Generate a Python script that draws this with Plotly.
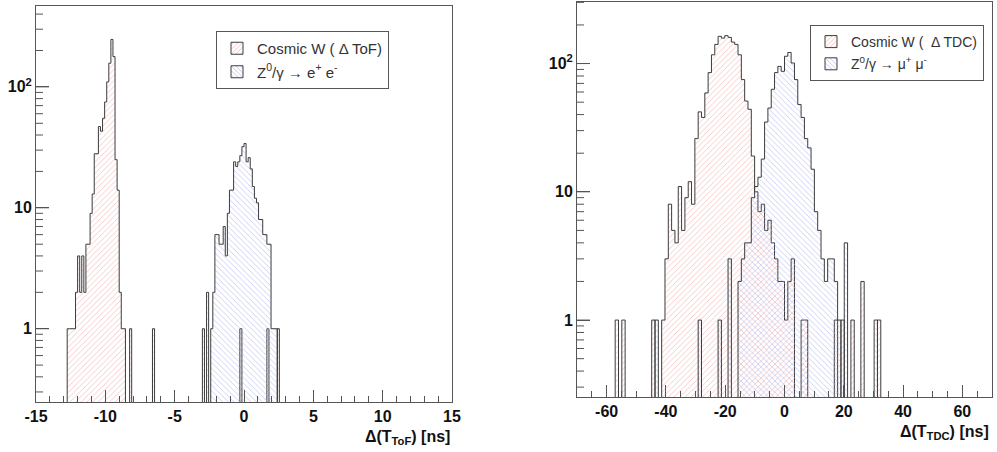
import numpy as np
import plotly.graph_objects as go

# ---------------- data: left panel, Delta(T_ToF) [ns] ----------------
tof_bin_lo = -15.0
tof_bin_w = 0.15
tof_cosmic_x = [-12.675, -12.525, -12.375, -12.225, -12.075, -11.925, -11.775, -11.625,
                -11.475, -11.325, -11.175, -11.025, -10.875, -10.725, -10.575, -10.425,
                -10.275, -10.125, -9.975, -9.825, -9.675, -9.525, -9.375, -9.225,
                -9.075, -8.925, -8.775, -8.625, -8.175, -6.525, -2.925, -0.225, 1.725, 2.475]
tof_cosmic_n = [1, 1, 1, 1, 2, 4, 2, 4,
                2, 5, 5, 9, 13, 28, 28, 47,
                43, 55, 75, 110, 157, 247, 178, 25,
                14, 2, 1, 1, 1, 1, 1, 1, 1, 1]
tof_z_x = [-2.625, -2.325, -2.175, -2.025, -1.875, -1.725, -1.575, -1.425, -1.275, -1.125,
           -0.975, -0.825, -0.675, -0.525, -0.375, -0.225, -0.075, 0.075, 0.225, 0.375,
           0.525, 0.675, 0.825, 0.975, 1.125, 1.275, 1.425, 1.575, 1.725, 1.875,
           2.025, 2.175, 2.325]
tof_z_n = [2, 1, 2, 6, 6, 5, 5, 7, 4, 9,
           14, 14, 24, 22, 24, 27, 32, 34, 24, 26,
           21, 15, 12, 11, 8, 8, 6, 6, 5, 5,
           1, 1, 1]

# ---------------- data: right panel, Delta(T_TDC) [ns] ----------------
tdc_bin_lo = -70.56
tdc_bin_w = 1.12
tdc_cosmic_x = [-57.12, -54.88, -44.24,
                -40.88, -39.76, -38.64, -37.52, -36.40, -35.28, -34.16, -33.04, -31.92,
                -30.80, -29.68, -28.56, -27.44, -26.32, -25.20, -24.08, -22.96, -21.84,
                -20.72, -19.60, -18.48, -17.36, -16.24, -15.12, -14.00, -12.88, -11.76,
                -10.64, -9.52, -8.40, -7.28, -6.16, -5.04, -3.92, -2.80, -1.68, -0.56,
                0.56, 1.68, 2.80, 6.16, 7.28, 17.36, 19.60, 22.96, 26.32, 31.92]
tdc_cosmic_n = [1, 1, 1,
                1, 3, 8, 5, 4, 11, 5, 9, 12,
                8, 26, 42, 38, 59, 85, 117, 141, 163,
                158, 165, 160, 147, 141, 117, 75, 51, 44,
                19, 10, 7, 8, 5, 6, 4, 3, 2, 2,
                1, 2, 3, 1, 1, 1, 1, 1, 2, 1]
tdc_z_x = [-43.12, -28.56, -21.84, -18.48,
           -15.12, -14.00, -12.88, -11.76, -10.64, -9.52, -8.40, -7.28, -6.16, -5.04,
           -3.92, -2.80, -1.68, -0.56, 0.56, 1.68, 2.80, 3.92, 5.04, 6.16,
           7.28, 8.40, 9.52, 10.64, 11.76, 12.88, 14.00, 15.12, 16.24, 17.36,
           18.48, 20.72, 30.80]
tdc_z_n = [1, 1, 1, 3,
           2, 3, 4, 4, 9, 11, 13, 18, 35, 45,
           63, 85, 95, 87, 114, 122, 101, 75, 48, 38,
           26, 22, 15, 7, 5, 3, 2, 3, 3, 2,
           1, 4, 1]

tof_ticks = [-15, -10, -5, 0, 5, 10, 15]
tdc_ticks = [-60, -40, -20, 0, 20, 40, 60]
y_tickvals = [1, 10, 100]
y_ticktext = ["1", "10", "10<sup>2</sup>"]
y_minor_left = [0.3, 0.4, 0.5, 0.6, 0.7, 0.8, 0.9, 2, 3, 4, 5, 6, 7, 8, 9,
                20, 30, 40, 50, 60, 70, 80, 90, 200, 300, 400]
y_minor_right = [0.3, 0.4, 0.5, 0.6, 0.7, 0.8, 0.9, 2, 3, 4, 5, 6, 7, 8, 9,
                 20, 30, 40, 50, 60, 70, 80, 90, 200, 300]

legend_tof = ["Cosmic W ( \u0394 ToF)", "Z<sup>0</sup>/\u03b3 \u2192 e<sup>+</sup> e<sup>-</sup>"]
legend_tdc = ["Cosmic W (  \u0394 TDC)", "Z<sup>0</sup>/\u03b3 \u2192 \u03bc<sup>+</sup> \u03bc<sup>-</sup>"]
x_title_tof = "\u0394(T<sub>ToF</sub>) [ns]"
x_title_tdc = "\u0394(T<sub>TDC</sub>) [ns]"

# ---------------- styling ----------------
RED = "#f2a8a8"
BLUE = "#abb3ee"
OUTLINE = "#3c3c3c"
FRAME = "#555555"
FONT = "Liberation Sans"
FLOOR = 1e-2
MAJOR_LEN = 13
MINOR_LEN = 7

W, H = 997, 452
LEFT_DOM = [36 / W, 452 / W]
RIGHT_DOM = [577 / W, 992 / W]


def step_outline(lo, w, centers, counts):
    idx = np.floor((np.asarray(centers) - lo) / w + 1e-6).astype(int)
    kmin, kmax = idx.min(), idx.max()
    h = np.zeros(kmax - kmin + 1)
    for i, c in zip(idx, counts):
        h[i - kmin] += c
    h = np.where(h > 0, h, FLOOR)
    xs = [lo + kmin * w]
    ys = [FLOOR]
    for j, v in enumerate(h):
        e0 = lo + (kmin + j) * w
        xs += [e0, e0 + w]
        ys += [v, v]
    xs.append(lo + (kmax + 1) * w)
    ys.append(FLOOR)
    return xs, ys


def hist_trace(lo, w, cx, cn, color, shape, xa, ya):
    xs, ys = step_outline(lo, w, cx, cn)
    return go.Scatter(
        x=xs, y=ys, xaxis=xa, yaxis=ya, mode="lines",
        line=dict(color=OUTLINE, width=1),
        fill="toself", fillcolor="rgba(0,0,0,0)",
        fillpattern=dict(shape=shape, fgcolor=color, bgcolor="rgba(0,0,0,0)",
                         size=4, solidity=0.15, fillmode="replace"),
        showlegend=False, hoverinfo="skip",
    )


def legend_trace(name, color, shape, xa, ya, legend, group):
    return go.Bar(
        x=[None], y=[None], xaxis=xa, yaxis=ya, name=name, legend=legend,
        legendgroup=group,
        marker=dict(color="rgba(0,0,0,0)",
                    pattern=dict(shape=shape, fgcolor=color, bgcolor="rgba(0,0,0,0)",
                                 size=4, solidity=0.22, fillmode="replace"),
                    line=dict(color=OUTLINE, width=1)),
        showlegend=True,
    )


def ytick_trace(major, minor, xa, ya):
    # inward tick marks of the log y axis, on a helper x axis measured in pixels
    xs, ys = [], []
    for v in major:
        xs += [0, MAJOR_LEN, None]
        ys += [v, v, None]
    for v in minor:
        xs += [0, MINOR_LEN, None]
        ys += [v, v, None]
    return go.Scatter(x=xs, y=ys, xaxis=xa, yaxis=ya, mode="lines",
                      line=dict(color=FRAME, width=1), showlegend=False,
                      hoverinfo="skip")


fig = go.Figure()
fig.add_trace(hist_trace(tof_bin_lo, tof_bin_w, tof_cosmic_x, tof_cosmic_n, RED, "/", "x", "y"))
fig.add_trace(hist_trace(tof_bin_lo, tof_bin_w, tof_z_x, tof_z_n, BLUE, "\\", "x", "y"))
fig.add_trace(hist_trace(tdc_bin_lo, tdc_bin_w, tdc_cosmic_x, tdc_cosmic_n, RED, "/", "x2", "y2"))
fig.add_trace(hist_trace(tdc_bin_lo, tdc_bin_w, tdc_z_x, tdc_z_n, BLUE, "\\", "x2", "y2"))

fig.add_trace(ytick_trace(y_tickvals, y_minor_left, "x3", "y"))
fig.add_trace(ytick_trace(y_tickvals, y_minor_right, "x4", "y2"))

fig.add_trace(legend_trace(legend_tof[0], RED, "/", "x", "y", "legend", "a"))
fig.add_trace(legend_trace(legend_tof[1], BLUE, "\\", "x", "y", "legend", "b"))
fig.add_trace(legend_trace(legend_tdc[0], RED, "/", "x2", "y2", "legend2", "c"))
fig.add_trace(legend_trace(legend_tdc[1], BLUE, "\\", "x2", "y2", "legend2", "d"))

tickfont = dict(family=FONT, size=16, color="#111", weight="bold")


def xaxis(dom, rng, tickvals, minor_dt, anchor):
    return dict(domain=dom, range=rng, anchor=anchor, showline=True, mirror=True,
                automargin=False,
                linecolor=FRAME, linewidth=1, ticks="inside", ticklen=12, tickwidth=1,
                tickcolor=FRAME,
                tickmode="array", tickvals=tickvals, ticktext=[str(v) for v in tickvals],
                tickfont=tickfont, showgrid=False, zeroline=False,
                minor=dict(ticks="inside", ticklen=6, dtick=minor_dt, tick0=0,
                           tickwidth=1, tickcolor=FRAME, showgrid=False))


def helper_x(dom, anchor):
    return dict(domain=dom, range=[0, (dom[1] - dom[0]) * W], anchor=anchor,
                visible=False, showgrid=False, zeroline=False, automargin=False)


def yaxis(dom, rng, anchor):
    return dict(domain=dom, type="log", range=rng, anchor=anchor, showline=True,
                mirror=True, automargin=False,
                linecolor=FRAME, linewidth=1, ticks="inside", ticklen=MAJOR_LEN,
                tickwidth=1, tickcolor=FRAME, tickmode="array", tickvals=y_tickvals,
                ticktext=y_ticktext, tickfont=tickfont, showgrid=False, zeroline=False)


legend_common = dict(bgcolor="white", bordercolor="#555", borderwidth=1,
                     xanchor="left", yanchor="top", tracegroupgap=1,
                     itemclick=False, itemdoubleclick=False)

left_yrange = [-0.606, 2.669]
right_yrange = [-0.60, 2.48]

fig.update_layout(
    template="none",
    width=W, height=H,
    margin=dict(l=0, r=0, t=0, b=0, autoexpand=False),
    paper_bgcolor="white", plot_bgcolor="rgba(0,0,0,0)",
    font=dict(family=FONT, color="#222"),
    xaxis=xaxis(LEFT_DOM, [-15, 15], tof_ticks, 1, "y"),
    yaxis=yaxis([50 / H, 446 / H], left_yrange, "x"),
    xaxis3=helper_x(LEFT_DOM, "y"),
    xaxis2=xaxis(RIGHT_DOM, [-70, 70], tdc_ticks, 5, "y2"),
    yaxis2=yaxis([55 / H, 450 / H], right_yrange, "x2"),
    xaxis4=helper_x(RIGHT_DOM, "y2"),
    legend=dict(x=216 / W, y=1 - 31 / H, font=dict(family=FONT, size=15, color="#333"),
                **legend_common),
    legend2=dict(x=810 / W, y=1 - 25 / H, font=dict(family=FONT, size=14, color="#333"),
                 **legend_common),
    annotations=[
        dict(text=x_title_tof, xref="paper", yref="paper", x=452 / W, y=1 - 437 / H,
             xanchor="right", yanchor="middle", showarrow=False,
             font=dict(family=FONT, size=16, color="#111", weight="bold")),
        dict(text=x_title_tdc, xref="paper", yref="paper", x=991 / W, y=1 - 432 / H,
             xanchor="right", yanchor="middle", showarrow=False,
             font=dict(family=FONT, size=16, color="#111", weight="bold")),
    ],
    barmode="overlay",
)

fig.write_html("out.html")
